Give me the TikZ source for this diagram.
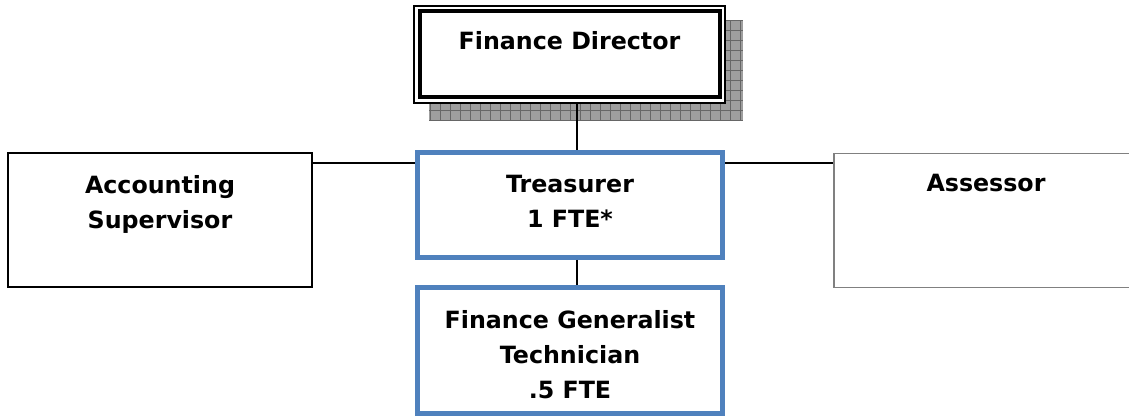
\documentclass[tikz,border=0pt]{standalone}
\usepackage{fontspec}
\setmainfont{DejaVu Sans}
\usepackage{tikz}
\usetikzlibrary{calc,positioning}
\definecolor{bleu}{HTML}{4F81BD}
\definecolor{grisbord}{HTML}{808080}
\tikzset{
  poste/.style={draw,fill=white,line width=1.4pt,inner sep=0pt,minimum width=228.1pt,minimum height=100.6pt},
  posteb/.style={draw=bleu,fill=white,line width=3.75pt,inner sep=0pt,minimum width=228.75pt},
  titre/.style={inner sep=0pt,align=center,font=\bfseries\fontsize{17.8}{26.25}\selectfont},
  lien/.style={line width=1.3pt}
}
\begin{document}
\begin{tikzpicture}[x=0.75pt,y=-0.75pt]
\useasboundingbox (0,0) rectangle (1129,416);
% Ombre
\fill [black!38] (429,20) rectangle (743,120);
\draw [black!60,thin,step=7.5pt] (429,20) grid (743,120);
% Boites
\node [draw,fill=white,line width=1.6pt,inner sep=0pt,minimum width=233.2pt,minimum height=72.7pt] (fd) at (569.5,54.5) {};
\draw [line width=3pt] ($(fd.north west)+(4.9pt,-4.9pt)$) rectangle ($(fd.south east)+(-4.9pt,4.9pt)$);
\node [poste] (acc) at (160,220) {};
\node [posteb,minimum height=78.75pt] (tr) at (570,205) {};
\node [posteb,minimum height=94.5pt] (fg) at (570,350.5) {};
\node [poste,draw=grisbord,line width=1.2pt,minimum height=100.5pt] (as) at (986,220.5) {};
% Textes
\node [titre,below=19.5pt of fd.north] (fdt) {Finance Director};
\node [titre,below=17.25pt of acc.north] (acct) {Accounting\\Supervisor};
\node [titre,below=18.75pt of tr.north] (trt) {Treasurer\\1 FTE*};
\node [titre,below=18.75pt of fg.north] (fgt) {Finance Generalist\\Technician\\.5 FTE};
\node [titre,below=15.75pt of as.north] (ast) {Assessor};
% Liens
\draw [lien] ([xshift=5.25pt]tr.north |- fd.south) -- ([xshift=5.25pt]tr.north);
\draw [lien] ([xshift=5.25pt]tr.south) -- ([xshift=5.25pt]fg.north);
\coordinate (ga) at ([yshift=-8.25pt]acc.north east);
\draw [lien] (ga) -- (ga -| tr.west);
\coordinate (da) at ([yshift=-7.5pt]as.north west);
\draw [lien] (da -| tr.east) -- (da);
\end{tikzpicture}
\end{document}
